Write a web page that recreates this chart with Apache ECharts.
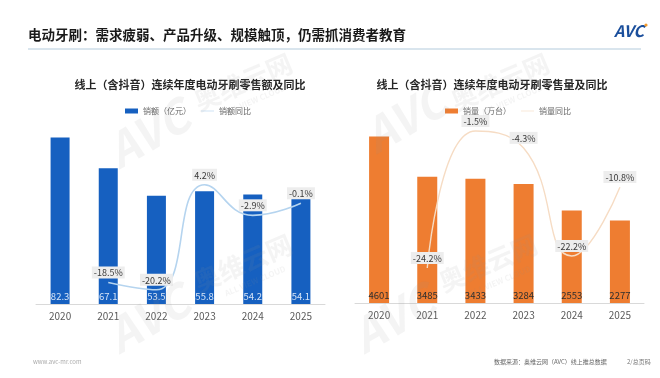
<!DOCTYPE html>
<html>
<head>
<meta charset="utf-8">
<script src="https://cdn.jsdelivr.net/npm/echarts@6/dist/echarts.min.js"></script>
<style>
html,body{margin:0;padding:0;background:#fff;}
#c{width:660px;height:378px;}
</style>
</head>
<body>
<div id="c"></div>
<script>
// ---- data ----
const years = ['2020', '2021', '2022', '2023', '2024', '2025'];
const salesAmount = [82.3, 67.1, 53.5, 55.8, 54.2, 54.1];          // 销额（亿元）
const salesAmountYoY = ['-', -18.5, -20.2, 4.2, -2.9, -0.1];        // 销额同比 %
const salesVolume = [4601, 3485, 3433, 3284, 2553, 2277];           // 销量（万台）
const salesVolumeYoY = ['-', -24.2, -1.5, -4.3, -22.2, -10.8];      // 销量同比 %

const mainTitle = '电动牙刷：需求疲弱、产品升级、规模触顶，仍需抓消费者教育';
const leftTitle = '线上（含抖音）连续年度电动牙刷零售额及同比';
const rightTitle = '线上（含抖音）连续年度电动牙刷零售量及同比';
const sourceText = '数据来源：奥维云网（AVC）线上推总数据';

const FONT = '"Noto Sans CJK SC", "Noto Sans", sans-serif';
const BLUE = '#1660c0';
const ORANGE = '#ee7d31';

const chart = echarts.init(document.getElementById('c'), null, {renderer: 'canvas'});

const wmColor = 'rgba(150,150,150,0.10)';
function wmText(x, y, text, size, rot, italic) {
  return {
    type: 'text', x: x, y: y, rotation: rot * Math.PI / 180, z: 100, silent: true,
    style: {
      text: text, fill: wmColor, font: (italic ? 'italic ' : '') + 'bold ' + size + 'px ' + FONT,
      align: 'center', verticalAlign: 'middle'
    }
  };
}

const lineLabel = {
  show: true, position: 'top', distance: 4,
  formatter: p => p.value + '%',
  fontSize: 9, color: '#3a3a3a', fontFamily: FONT,
  backgroundColor: '#ededed', padding: [2, 2, 1, 2]
};

const option = {
  animation: false,
  textStyle: {fontFamily: FONT},
  title: [
    {text: leftTitle, left: 185, top: 74, textAlign: 'center',
     textStyle: {fontSize: 11, fontWeight: 'bold', color: '#262626', fontFamily: FONT}},
    {text: rightTitle, left: 487, top: 74, textAlign: 'center',
     textStyle: {fontSize: 11, fontWeight: 'bold', color: '#262626', fontFamily: FONT}}
  ],
  legend: [
    {left: 120, top: 102, itemGap: 10, itemWidth: 13, itemHeight: 5,
     textStyle: {fontSize: 8, color: '#666', fontFamily: FONT},
     data: [{name: '销额（亿元）', icon: 'rect'}, {name: '销额同比', icon: 'path://M0,0L20,0L20,1L0,1Z'}]},
    {left: 440, top: 102, itemGap: 10, itemWidth: 13, itemHeight: 5,
     textStyle: {fontSize: 8, color: '#666', fontFamily: FONT},
     data: [{name: '销量（万台）', icon: 'rect'}, {name: '销量同比', icon: 'path://M0,0L20,0L20,1L0,1Z'}]}
  ],
  grid: [
    {left: 36, right: 335, top: 122, bottom: 74},
    {left: 355, right: 16, top: 122, bottom: 75}
  ],
  xAxis: [
    {type: 'category', data: years, gridIndex: 0,
     axisLine: {lineStyle: {color: '#d9d9d9'}}, axisTick: {show: false},
     axisLabel: {fontSize: 10, color: '#595959', margin: 7}},
    {type: 'category', data: years, gridIndex: 1,
     axisLine: {lineStyle: {color: '#d9d9d9'}}, axisTick: {show: false},
     axisLabel: {fontSize: 10, color: '#595959', margin: 7}}
  ],
  yAxis: [
    {type: 'value', gridIndex: 0, min: 0, max: 90, show: false, splitLine: {show: false}},
    {type: 'value', gridIndex: 0, min: -23.5, max: 18.8, show: false, splitLine: {show: false}},
    {type: 'value', gridIndex: 1, min: 0, max: 5000, show: false, splitLine: {show: false}},
    {type: 'value', gridIndex: 1, min: -30, max: 0, show: false, splitLine: {show: false}}
  ],
  series: [
    {name: '销额（亿元）', type: 'bar', xAxisIndex: 0, yAxisIndex: 0, data: salesAmount,
     barWidth: 19, itemStyle: {color: BLUE},
     label: {show: true, position: 'insideBottom', distance: 3, fontSize: 9.5, color: '#d6e4f6'}},
    {name: '销额同比', type: 'line', xAxisIndex: 0, yAxisIndex: 1, data: salesAmountYoY,
     smooth: 0.5, symbol: 'circle', symbolSize: 0.1, showSymbol: true,
     lineStyle: {color: '#b5d4ef', width: 1.6},
     itemStyle: {color: '#b5d4ef'}, label: lineLabel, z: 5},
    {name: '销量（万台）', type: 'bar', xAxisIndex: 1, yAxisIndex: 2, data: salesVolume,
     barWidth: 20, itemStyle: {color: ORANGE},
     label: {show: true, position: 'insideBottom', distance: 3, fontSize: 9.5, color: '#2e2e2e'}},
    {name: '销量同比', type: 'line', xAxisIndex: 1, yAxisIndex: 3, data: salesVolumeYoY,
     smooth: 0.5, symbol: 'circle', symbolSize: 0.1, showSymbol: true,
     lineStyle: {color: '#f6dcc4', width: 1.4},
     itemStyle: {color: '#f6dcc4'}, label: lineLabel, z: 5}
  ],
  graphic: [
    {type: 'text', x: 28, y: 35, silent: true,
     style: {text: mainTitle, fill: '#1a1a1a', font: 'bold 13.5px ' + FONT, verticalAlign: 'middle'}},
    {type: 'line', silent: true, shape: {x1: 28, y1: 49, x2: 641, y2: 49},
     style: {stroke: '#b3cbdc', lineWidth: 1}},
    {type: 'text', x: 629, y: 31, silent: true,
     style: {text: 'AVC', fill: '#1b4f9c', font: 'italic bold 16px ' + FONT, align: 'center', verticalAlign: 'middle'}},
    {type: 'circle', silent: true, shape: {cx: 646, cy: 25, r: 1.6}, style: {fill: '#f39a2b'}},
    {type: 'text', x: 33, y: 362, silent: true,
     style: {text: 'www.avc-mr.com', fill: '#aaa', font: '6px ' + FONT, verticalAlign: 'middle'}},
    {type: 'text', x: 494, y: 362, silent: true,
     style: {text: sourceText, fill: '#666', font: '6px ' + FONT, verticalAlign: 'middle'}},
    {type: 'text', x: 627, y: 362, silent: true,
     style: {text: '2/总页码', fill: '#777', font: '6px ' + FONT, verticalAlign: 'middle'}},
    // watermarks
    wmText(148, 133, 'AVC', 46, 30, true),
    wmText(243, 82, '奥维云网', 26, 23, false),
    wmText(255, 100, 'ALL VIEW CLOUD', 8, 23, false),
    wmText(243, 263, '奥维云网', 26, 23, false),
    wmText(255, 281, 'ALL VIEW CLOUD', 8, 23, false),
    wmText(148, 318, 'AVC', 46, 30, true),
    wmText(405, 118, 'AVC', 46, 30, true),
    wmText(500, 82, '奥维云网', 26, 23, false),
    wmText(512, 100, 'ALL VIEW CLOUD', 8, 23, false),
    wmText(488, 263, '奥维云网', 26, 23, false),
    wmText(500, 281, 'ALL VIEW CLOUD', 8, 23, false),
    wmText(393, 318, 'AVC', 46, 30, true)
  ]
};
chart.setOption(option);
</script>
</body>
</html>
